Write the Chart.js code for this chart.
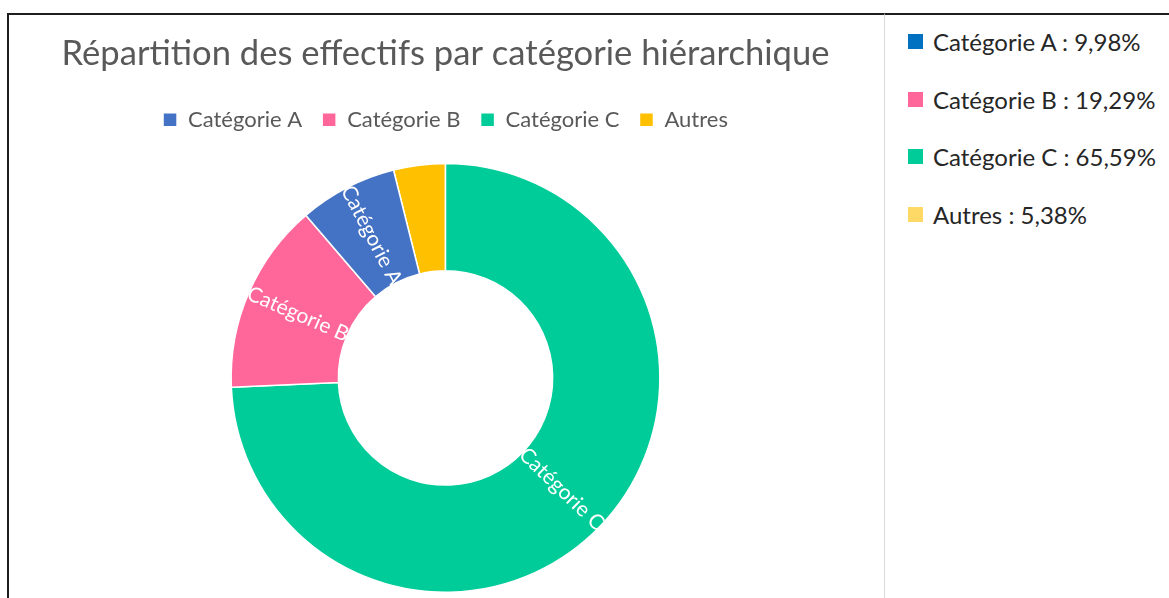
<!DOCTYPE html>
<html>
<head>
<meta charset="utf-8">
<script src="https://cdn.jsdelivr.net/npm/chart.js@4"></script>
<style>
  body { margin: 0; background: #fff; font-family: Lato, sans-serif; }
  #left { position: absolute; left: 7px; top: 13px; width: 875px; height: 585px;
          border-top: 2px solid #1e1e1e; border-left: 2px solid #1e1e1e; }
  #left canvas { display: block; }
  #right { position: absolute; left: 884px; top: 13px; width: 285px; height: 585px;
           border-top: 2px solid #1e1e1e; border-left: 1px solid #d9d9d9; }
  #side { list-style: none; margin: 0; padding: 0; position: absolute; left: 23px; top: -2px; }
  #side li { height: 57.5px; display: flex; align-items: center; font-size: 24px; color: #262626; white-space: nowrap; }
  #side span.box { width: 15px; height: 15px; margin-right: 10px; display: inline-block; }
</style>
</head>
<body>
<div id="left"><canvas id="myChart" width="873" height="583"></canvas></div>
<div id="right"><ul id="side"></ul></div>
<script>
// values
const categories = ["Catégorie A", "Catégorie B", "Catégorie C", "Autres"];
const sliceValues = [7.4, 14.4, 74.3, 3.9];          // share of the ring as drawn
const sidePercents = [9.98, 19.29, 65.59, 5.38];      // figures in the right-hand list
const ringColors = ["#4472C4", "#FF6699", "#00CC99", "#FFC000"];
const sideColors = ["#0070C0", "#FF6699", "#00CC99", "#FFD966"];

// right-hand list
const side = document.getElementById("side");
categories.forEach((c, i) => {
  const li = document.createElement("li");
  li.innerHTML = '<span class="box" style="background:' + sideColors[i] + '"></span>' +
    c + " : " + sidePercents[i].toFixed(2).replace(".", ",") + "%";
  side.appendChild(li);
});

// white labels written along the radius of each slice
const sliceLabels = {
  id: "sliceLabels",
  afterDatasetsDraw(chart) {
    const ctx = chart.ctx;
    const meta = chart.getDatasetMeta(0);
    ctx.save();
    ctx.font = "21px Lato";
    ctx.fillStyle = "#fff";
    ctx.textAlign = "center";
    ctx.textBaseline = "middle";
    meta.data.forEach((arc, i) => {
      const p = arc.getProps(["x", "y", "startAngle", "endAngle", "innerRadius", "outerRadius"], true);
      if (p.endAngle - p.startAngle < 0.35) return;
      const mid = (p.startAngle + p.endAngle) / 2;
      const r = (p.innerRadius + p.outerRadius) / 2;
      ctx.save();
      ctx.translate(p.x + Math.cos(mid) * r, p.y + Math.sin(mid) * r);
      ctx.rotate(Math.cos(mid) < 0 ? mid + Math.PI : mid);
      ctx.fillText(chart.data.labels[i], 0, 0);
      ctx.restore();
    });
    ctx.restore();
  }
};

// a bit more room under the legend
const legendGap = {
  id: "legendGap",
  beforeInit(chart) {
    const fit = chart.legend.fit;
    chart.legend.fit = function () {
      fit.bind(chart.legend)();
      this.height += 22;
    };
  }
};

function draw() {
  // ring runs counter-clockwise in the original, so feed it reversed and flip the legend back
  const labels = categories.slice().reverse();
  const data = sliceValues.slice().reverse();
  const colors = ringColors.slice().reverse();
  const total = sliceValues.reduce((a, b) => a + b, 0);

  new Chart(document.getElementById("myChart"), {
    type: "doughnut",
    data: {
      labels: labels,
      datasets: [{
        data: data,
        backgroundColor: colors,
        borderColor: "#fff",
        borderWidth: 1.5
      }]
    },
    options: {
      responsive: false,
      animation: false,
      cutout: "50%",
      rotation: -(sliceValues[3] / total) * 360,
      layout: { padding: { bottom: 5 } },
      plugins: {
        title: {
          display: true,
          text: "Répartition des effectifs par catégorie hiérarchique",
          color: "#595959",
          font: { family: "Lato", size: 34.6, weight: "normal" },
          padding: { top: 18, bottom: 14.3 }
        },
        legend: {
          reverse: true,
          labels: {
            color: "#595959",
            font: { family: "Lato", size: 22 },
            boxWidth: 14,
            boxHeight: 14,
            padding: 20
          }
        },
        tooltip: { enabled: false }
      }
    },
    plugins: [sliceLabels, legendGap]
  });
}

document.fonts.load("22px Lato").then(draw, draw);
</script>
</body>
</html>
